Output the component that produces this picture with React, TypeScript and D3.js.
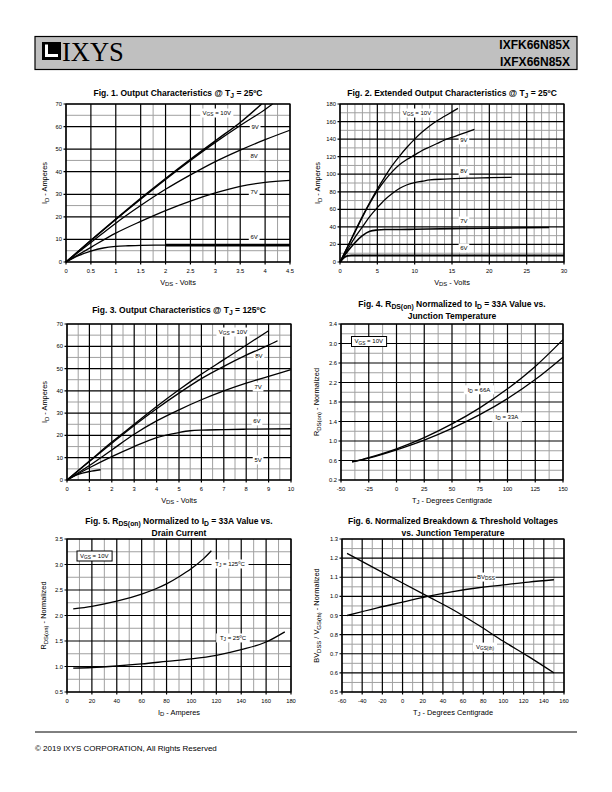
import React from 'react';
import * as d3 from 'd3';

const FONT = '"Liberation Sans", Arial, Helvetica, sans-serif';

// ---------- Fig 1 data (Output characteristics @ 25C) ----------
const f1Vds10 = [0, 0.5, 1, 1.5, 2, 2.5, 3, 3.5, 3.93];
const f1Id10 = [0, 9.6, 19, 28.2, 37, 45.5, 53.7, 61.8, 70];
const f1Vds9 = [0, 0.5, 1, 1.5, 2, 2.5, 3, 3.5, 4, 4.15];
const f1Id9 = [0, 9.5, 18.8, 27.8, 36.6, 45, 53, 60.5, 67.6, 70];
const f1Vds8 = [0, 0.5, 1, 1.5, 2, 2.5, 3, 3.5, 4, 4.5];
const f1Id8 = [0, 8.6, 17.2, 25, 32.2, 38.6, 44.5, 49.6, 54.2, 58.4];
const f1Vds7 = [0, 0.5, 1, 1.5, 2, 2.5, 3, 3.5, 4, 4.5];
const f1Id7 = [0, 6.5, 12.8, 18, 22.8, 27, 30.6, 33.5, 35.3, 36.2];
const f1Vds6 = [0, 0.25, 0.5, 0.75, 1, 1.25, 1.5, 2, 3, 4, 4.5];
const f1Id6 = [0, 2.8, 4.8, 6.2, 6.9, 7.2, 7.4, 7.5, 7.5, 7.5, 7.5];
const f1XTicks = [0, 0.5, 1, 1.5, 2, 2.5, 3, 3.5, 4, 4.5];
const f1YTicks = [0, 10, 20, 30, 40, 50, 60, 70];

// ---------- Fig 2 data (Extended output characteristics) ----------
const f2Vds10 = [0, 1, 2, 3, 4, 5, 6, 7, 8, 9, 10, 11, 12, 13, 14, 15, 15.8];
const f2Id10 = [0, 17, 35, 52, 68, 83, 97, 110, 121, 131, 140, 148, 155, 161, 166, 171, 175];
const f2Vds9 = [0, 1, 2, 3, 4, 5, 6, 7, 8, 9, 10, 11, 12, 13, 14, 15, 16, 17, 18];
const f2Id9 = [0, 17, 34, 51, 67, 81, 93, 103, 111, 117, 122, 127, 131, 135, 139, 142, 145, 148, 151];
const f2Vds8 = [0, 1, 2, 3, 4, 5, 6, 7, 8, 9, 10, 11, 12, 14, 17, 20, 23];
const f2Id8 = [0, 14, 28, 40, 52, 62, 71, 78, 84, 88, 90.5, 92, 93.5, 94.5, 95.5, 96, 96.5];
const f2Vds7 = [0, 1, 2, 3, 4, 5, 6, 8, 10, 15, 20, 25, 28];
const f2Id7 = [0, 12, 22, 30, 35, 36.5, 37, 37, 37.3, 38, 38.5, 39, 39.3];
const f2Vds6 = [0, 0.5, 1, 1.5, 2, 5, 10, 20, 30];
const f2Id6 = [0, 5, 7, 7.5, 7.5, 7.5, 7.5, 7.5, 7.5];
const f2XTicks = [0, 5, 10, 15, 20, 25, 30];
const f2YTicks = [0, 20, 40, 60, 80, 100, 120, 140, 160, 180];

// ---------- Fig 3 data (Output characteristics @ 125C) ----------
const f3Vds10 = [0, 1, 2, 3, 4, 5, 6, 7, 8, 9];
const f3Id10 = [0, 8.5, 17, 25, 33, 40.5, 47.5, 54, 60.5, 67];
const f3Vds8 = [0, 1, 2, 3, 4, 5, 6, 7, 8, 9, 9.4];
const f3Id8 = [0, 8.3, 16.5, 24.5, 32, 39, 45.5, 51, 56, 60.5, 62.5];
const f3Vds7 = [0, 1, 2, 3, 4, 5, 6, 7, 8, 9, 10];
const f3Id7 = [0, 6.5, 13.5, 20.5, 26.5, 31.5, 36, 40, 43.5, 46.5, 49.5];
const f3Vds6 = [0, 1, 2, 3, 4, 5, 5.5, 6, 7, 8, 10];
const f3Id6 = [0, 5.5, 10.5, 15, 19, 21.3, 22.1, 22.4, 22.6, 22.8, 23];
const f3Vds5 = [0, 0.5, 1, 1.5];
const f3Id5 = [0, 2.5, 3.8, 4.6];
const f3XTicks = [0, 1, 2, 3, 4, 5, 6, 7, 8, 9, 10];
const f3YTicks = [0, 10, 20, 30, 40, 50, 60, 70];

// ---------- Fig 4 data (RDS(on) vs TJ) ----------
const f4Tj = [-40, -25, 0, 25, 50, 75, 100, 125, 150];
const f4R66 = [0.57, 0.66, 0.84, 1.07, 1.35, 1.68, 2.07, 2.53, 3.08];
const f4R33 = [0.57, 0.65, 0.82, 1.02, 1.26, 1.54, 1.87, 2.26, 2.72];
const f4XTicks = [-50, -25, 0, 25, 50, 75, 100, 125, 150];
const f4YTicks = [0.2, 0.6, 1.0, 1.4, 1.8, 2.2, 2.6, 3.0, 3.4];

// ---------- Fig 5 data (RDS(on) vs ID) ----------
const f5Id125 = [5, 20, 40, 60, 70, 80, 90, 100, 110, 116];
const f5R125 = [2.13, 2.18, 2.28, 2.42, 2.51, 2.62, 2.76, 2.92, 3.12, 3.27];
const f5Id25 = [5, 20, 40, 60, 80, 100, 120, 140, 160, 175];
const f5R25 = [0.97, 0.98, 1.01, 1.05, 1.1, 1.15, 1.22, 1.33, 1.48, 1.68];
const f5XTicks = [0, 20, 40, 60, 80, 100, 120, 140, 160, 180];
const f5YTicks = [0.5, 1.0, 1.5, 2.0, 2.5, 3.0, 3.5];

// ---------- Fig 6 data (BVDSS / VGS(th) vs TJ) ----------
const f6Tj = [-55, -25, 0, 25, 50, 75, 100, 125, 150];
const f6Bv = [0.9, 0.94, 0.97, 1.0, 1.025, 1.045, 1.06, 1.075, 1.087];
const f6Vth = [1.225, 1.14, 1.07, 1.0, 0.93, 0.85, 0.765, 0.685, 0.6];
const f6XTicks = [-60, -40, -20, 0, 20, 40, 60, 80, 100, 120, 140, 160];
const f6YTicks = [0.5, 0.6, 0.7, 0.8, 0.9, 1.0, 1.1, 1.2, 1.3];

const zip = (xs: number[], ys: number[]) => xs.map((x, i) => [x, ys[i]] as [number, number]);

const SUB = 0.8;

function Rich({ text, size, bold, ...rest }: any) {
  const parts = text.split(/(_\{[^}]*\})/).filter((p: string) => p !== '');
  let shifted = false;
  const out: any[] = [];
  const sh = size * 0.22;
  parts.forEach((p: string, i: number) => {
    if (p.startsWith('_{')) {
      out.push(
        <tspan key={i} fontSize={size * SUB} dy={shifted ? 0 : sh}>
          {p.slice(2, -1)}
        </tspan>
      );
      shifted = true;
    } else {
      out.push(
        <tspan key={i} dy={shifted ? -sh : 0}>
          {p}
        </tspan>
      );
      shifted = false;
    }
  });
  return (
    <text fontFamily={FONT} fontSize={size} fontWeight={bold ? 'bold' : 'normal'} {...rest}>
      {out}
    </text>
  );
}

function textWidth(text: string, size: number) {
  const parts = text.split(/(_\{[^}]*\})/).filter((p) => p !== '');
  let w = 0;
  parts.forEach((p) => {
    if (p.startsWith('_{')) w += (p.length - 3) * size * SUB * 0.58;
    else w += p.length * size * 0.56;
  });
  return w;
}

type Series = { pts: [number, number][]; w?: number; thickFrom?: number };
type Label = { x: number; y: number; text: string };

function Chart(props: {
  px0: number; px1: number; py0: number; py1: number;
  xDomain: [number, number]; yDomain: [number, number];
  xTicks: number[]; yTicks: number[];
  xMinor: number[]; yMinor: number[];
  xFmt?: (v: number) => string; yFmt?: (v: number) => string;
  series: Series[]; labels: Label[];
  title: string[]; titleY: number;
  xLabel: string; yLabel: string; yLabelX: number;
  box?: { dx: number; dy: number; text: string };
}) {
  const p = props;
  const x = d3.scaleLinear().domain(p.xDomain).range([p.px0, p.px1]);
  const y = d3.scaleLinear().domain(p.yDomain).range([p.py1, p.py0]);
  const line = d3.line<[number, number]>().x((d) => x(d[0])).y((d) => y(d[1])).curve(d3.curveMonotoneX);
  const xFmt = p.xFmt || ((v: number) => String(v));
  const yFmt = p.yFmt || ((v: number) => String(v));
  const cx = (p.px0 + p.px1) / 2;
  const cy = (p.py0 + p.py1) / 2;
  const lblSize = 6;
  return (
    <g>
      {p.title.map((t, i) => (
        <Rich key={i} text={t} size={8.5} bold x={cx} y={p.titleY + i * 11.5} textAnchor="middle" />
      ))}
      <rect x={p.px0} y={p.py0} width={p.px1 - p.px0} height={p.py1 - p.py0} fill="#fff" />
      {p.xMinor.map((v, i) => (
        <line key={'xm' + i} x1={x(v)} x2={x(v)} y1={p.py0} y2={p.py1} stroke="#a0a0a0" strokeWidth={1} />
      ))}
      {p.yMinor.map((v, i) => (
        <line key={'ym' + i} y1={y(v)} y2={y(v)} x1={p.px0} x2={p.px1} stroke="#a0a0a0" strokeWidth={1} />
      ))}
      {p.xTicks.map((v, i) => (
        <g key={'xt' + i}>
          <line x1={x(v)} x2={x(v)} y1={p.py0} y2={p.py1 + 2.5} stroke="#000" strokeWidth={1.2} />
          <text x={x(v)} y={p.py1 + 10.5} fontFamily={FONT} fontSize={5.8} textAnchor="middle">
            {xFmt(v)}
          </text>
        </g>
      ))}
      {p.yTicks.map((v, i) => (
        <g key={'yt' + i}>
          <line y1={y(v)} y2={y(v)} x1={p.px0 - 2.5} x2={p.px1} stroke="#000" strokeWidth={1.2} />
          <text x={p.px0 - 4} y={y(v) + 2} fontFamily={FONT} fontSize={5.8} textAnchor="end">
            {yFmt(v)}
          </text>
        </g>
      ))}
      <rect x={p.px0} y={p.py0} width={p.px1 - p.px0} height={p.py1 - p.py0} fill="none" stroke="#000" strokeWidth={1.2} />
      {p.labels.map((l, i) => {
        const w = textWidth(l.text, lblSize) + 4;
        return <rect key={'lb' + i} x={x(l.x) - w / 2} y={y(l.y) - 4.5} width={w} height={9} fill="#fff" />;
      })}
      {p.series.map((s, i) => (
        <g key={'s' + i}>
          <path d={line(s.pts) || ''} fill="none" stroke="#000" strokeWidth={s.w || 1.3} />
          {s.thickFrom !== undefined && (
            <path
              d={line(s.pts.filter((d) => d[0] >= s.thickFrom!)) || ''}
              fill="none"
              stroke="#000"
              strokeWidth={2.8}
            />
          )}
        </g>
      ))}
      {p.labels.map((l, i) => (
        <Rich key={'lt' + i} text={l.text} size={lblSize} x={x(l.x)} y={y(l.y) + 2} textAnchor="middle" />
      ))}
      {p.box && (
        <g>
          <rect
            x={p.px0 + p.box.dx}
            y={p.py0 + p.box.dy}
            width={textWidth(p.box.text, 6) + 6}
            height={10}
            fill="#fff"
            stroke="#000"
            strokeWidth={1}
          />
          <Rich text={p.box.text} size={6} x={p.px0 + p.box.dx + 3} y={p.py0 + p.box.dy + 6.8} />
        </g>
      )}
      <Rich text={p.xLabel} size={7.4} x={cx} y={p.py1 + 22.5} textAnchor="middle" />
      <Rich
        text={p.yLabel}
        size={7.4}
        x={0}
        y={0}
        textAnchor="middle"
        transform={`translate(${p.yLabelX},${cy}) rotate(-90)`}
      />
    </g>
  );
}

const mids = (a: number, b: number, step: number) => d3.range(a, b + 1e-9, step);

export default function App() {
  return (
    <svg width={612} height={792} style={{ position: 'absolute', left: 0, top: 0, background: '#fff' }}>
      <rect width={612} height={792} fill="#fff" />
      {/* Header */}
      <rect x={35} y={36.5} width={542} height={33} fill="#c0c0c0" stroke="#000" strokeWidth={1.2} />
      <rect x={42} y={42} width={19} height={18} fill="#000" />
      <rect x={45} y={44.5} width={3} height={12.5} fill="#fff" />
      <rect x={45} y={54} width={13} height={3} fill="#fff" />
      <text x={62} y={61} fontFamily='"Liberation Serif", "Times New Roman", serif' fontSize={26.5} fill="#000">
        IXYS
      </text>
      <text x={570} y={49} fontFamily={FONT} fontSize={12} fontWeight="bold" textAnchor="end">
        IXFK66N85X
      </text>
      <text x={570} y={66} fontFamily={FONT} fontSize={12} fontWeight="bold" textAnchor="end">
        IXFX66N85X
      </text>

      {/* Fig 1 */}
      <Chart
        px0={66} px1={290} py0={104} py1={262}
        xDomain={[0, 4.5]} yDomain={[0, 70]}
        xTicks={f1XTicks} yTicks={f1YTicks}
        xMinor={[1.75, 2.75, 3.25, 4.25]} yMinor={[5, 25, 45, 65]}
        series={[
          { pts: zip(f1Vds10, f1Id10), w: 1.5 },
          { pts: zip(f1Vds9, f1Id9), w: 1.3 },
          { pts: zip(f1Vds8, f1Id8) },
          { pts: zip(f1Vds7, f1Id7) },
          { pts: zip(f1Vds6, f1Id6), thickFrom: 1.6 },
        ]}
        labels={[
          { x: 3.03, y: 66, text: 'V_{GS} = 10V' },
          { x: 3.8, y: 59.8, text: '9V' },
          { x: 3.78, y: 47, text: '8V' },
          { x: 3.78, y: 31, text: '7V' },
          { x: 3.78, y: 10.9, text: '6V' },
        ]}
        title={['Fig. 1. Output Characteristics @ T_{J} = 25ºC']} titleY={96}
        xLabel="V_{DS} - Volts" yLabel="I_{D} - Amperes" yLabelX={47}
      />

      {/* Fig 2 */}
      <Chart
        px0={340} px1={564} py0={104} py1={262}
        xDomain={[0, 30]} yDomain={[0, 180]}
        xTicks={f2XTicks} yTicks={f2YTicks}
        xMinor={d3.range(1, 30).filter((v) => v % 5 !== 0)} yMinor={mids(10, 170, 20)}
        series={[
          { pts: zip(f2Vds10, f2Id10) },
          { pts: zip(f2Vds9, f2Id9) },
          { pts: zip(f2Vds8, f2Id8) },
          { pts: zip(f2Vds7, f2Id7), w: 1.6 },
          { pts: zip(f2Vds6, f2Id6), w: 2 },
        ]}
        labels={[
          { x: 10.3, y: 169.7, text: 'V_{GS} = 10V' },
          { x: 16.6, y: 139, text: '9V' },
          { x: 16.6, y: 103.7, text: '8V' },
          { x: 16.6, y: 46.7, text: '7V' },
          { x: 16.6, y: 16, text: '6V' },
        ]}
        title={['Fig. 2. Extended Output Characteristics @ T_{J} = 25ºC']} titleY={96}
        xLabel="V_{DS} - Volts" yLabel="I_{D} - Amperes" yLabelX={320}
      />

      {/* Fig 3 */}
      <Chart
        px0={67} px1={291} py0={324} py1={480}
        xDomain={[0, 10]} yDomain={[0, 70]}
        xTicks={f3XTicks} yTicks={f3YTicks}
        xMinor={mids(0.5, 9.5, 1)} yMinor={mids(5, 65, 10)}
        series={[
          { pts: zip(f3Vds10, f3Id10) },
          { pts: zip(f3Vds8, f3Id8) },
          { pts: zip(f3Vds7, f3Id7) },
          { pts: zip(f3Vds6, f3Id6) },
          { pts: zip(f3Vds5, f3Id5) },
        ]}
        labels={[
          { x: 7.41, y: 66.4, text: 'V_{GS} = 10V' },
          { x: 8.57, y: 55.6, text: '8V' },
          { x: 8.53, y: 41.7, text: '7V' },
          { x: 8.48, y: 26.5, text: '6V' },
          { x: 8.53, y: 9, text: '5V' },
        ]}
        title={['Fig. 3. Output Characteristics @ T_{J} = 125ºC']} titleY={313}
        xLabel="V_{DS} - Volts" yLabel="I_{D} - Amperes" yLabelX={47}
      />

      {/* Fig 4 */}
      <Chart
        px0={341} px1={563} py0={324} py1={480}
        xDomain={[-50, 150]} yDomain={[0.2, 3.4]}
        xTicks={f4XTicks} yTicks={f4YTicks}
        xMinor={mids(-37.5, 137.5, 25)} yMinor={mids(0.4, 3.2, 0.4)}
        yFmt={(v) => v.toFixed(1)}
        series={[{ pts: zip(f4Tj, f4R66) }, { pts: zip(f4Tj, f4R33) }]}
        labels={[
          { x: 74.3, y: 2.05, text: 'I_{D} = 66A' },
          { x: 99.5, y: 1.49, text: 'I_{D} = 33A' },
        ]}
        box={{ dx: 10.5, dy: 12.5, text: 'V_{GS} = 10V' }}
        title={['Fig. 4. R_{DS(on)} Normalized to I_{D} = 33A Value vs.', 'Junction Temperature']} titleY={307}
        xLabel="T_{J} - Degrees Centigrade" yLabel="R_{DS(on)} - Normalized" yLabelX={319}
      />

      {/* Fig 5 */}
      <Chart
        px0={67} px1={291} py0={539} py1={692}
        xDomain={[0, 180]} yDomain={[0.5, 3.5]}
        xTicks={f5XTicks} yTicks={f5YTicks}
        xMinor={mids(10, 170, 20)} yMinor={mids(0.75, 3.25, 0.5)}
        yFmt={(v) => v.toFixed(1)}
        series={[{ pts: zip(f5Id125, f5R125) }, { pts: zip(f5Id25, f5R25) }]}
        labels={[
          { x: 131, y: 3.01, text: 'T_{J} = 125ºC' },
          { x: 133.4, y: 1.56, text: 'T_{J} = 25ºC' },
        ]}
        box={{ dx: 10, dy: 12, text: 'V_{GS} = 10V' }}
        title={['Fig. 5. R_{DS(on)} Normalized to I_{D} = 33A Value vs.', 'Drain Current']} titleY={524}
        xLabel="I_{D} - Amperes" yLabel="R_{DS(on)} - Normalized" yLabelX={46}
      />

      {/* Fig 6 */}
      <Chart
        px0={342} px1={564} py0={539} py1={692}
        xDomain={[-60, 160]} yDomain={[0.5, 1.3]}
        xTicks={f6XTicks} yTicks={f6YTicks}
        xMinor={mids(-50, 150, 20)} yMinor={mids(0.55, 1.25, 0.1)}
        yFmt={(v) => v.toFixed(1)}
        series={[{ pts: zip(f6Tj, f6Bv) }, { pts: zip(f6Tj, f6Vth) }]}
        labels={[
          { x: 82.7, y: 1.101, text: 'BV_{DSS}' },
          { x: 81.7, y: 0.735, text: 'V_{GS(th)}' },
        ]}
        title={['Fig. 6. Normalized Breakdown & Threshold Voltages', 'vs. Junction Temperature']} titleY={524}
        xLabel="T_{J} - Degrees Centigrade" yLabel="BV_{DSS} / V_{GS(th)} - Normalized" yLabelX={319}
      />

      {/* Footer */}
      <line x1={35} x2={577} y1={732} y2={732} stroke="#000" strokeWidth={1} />
      <text x={35} y={750.5} fontFamily={FONT} fontSize={8}>
        © 2019 IXYS CORPORATION, All Rights Reserved
      </text>
    </svg>
  );
}
